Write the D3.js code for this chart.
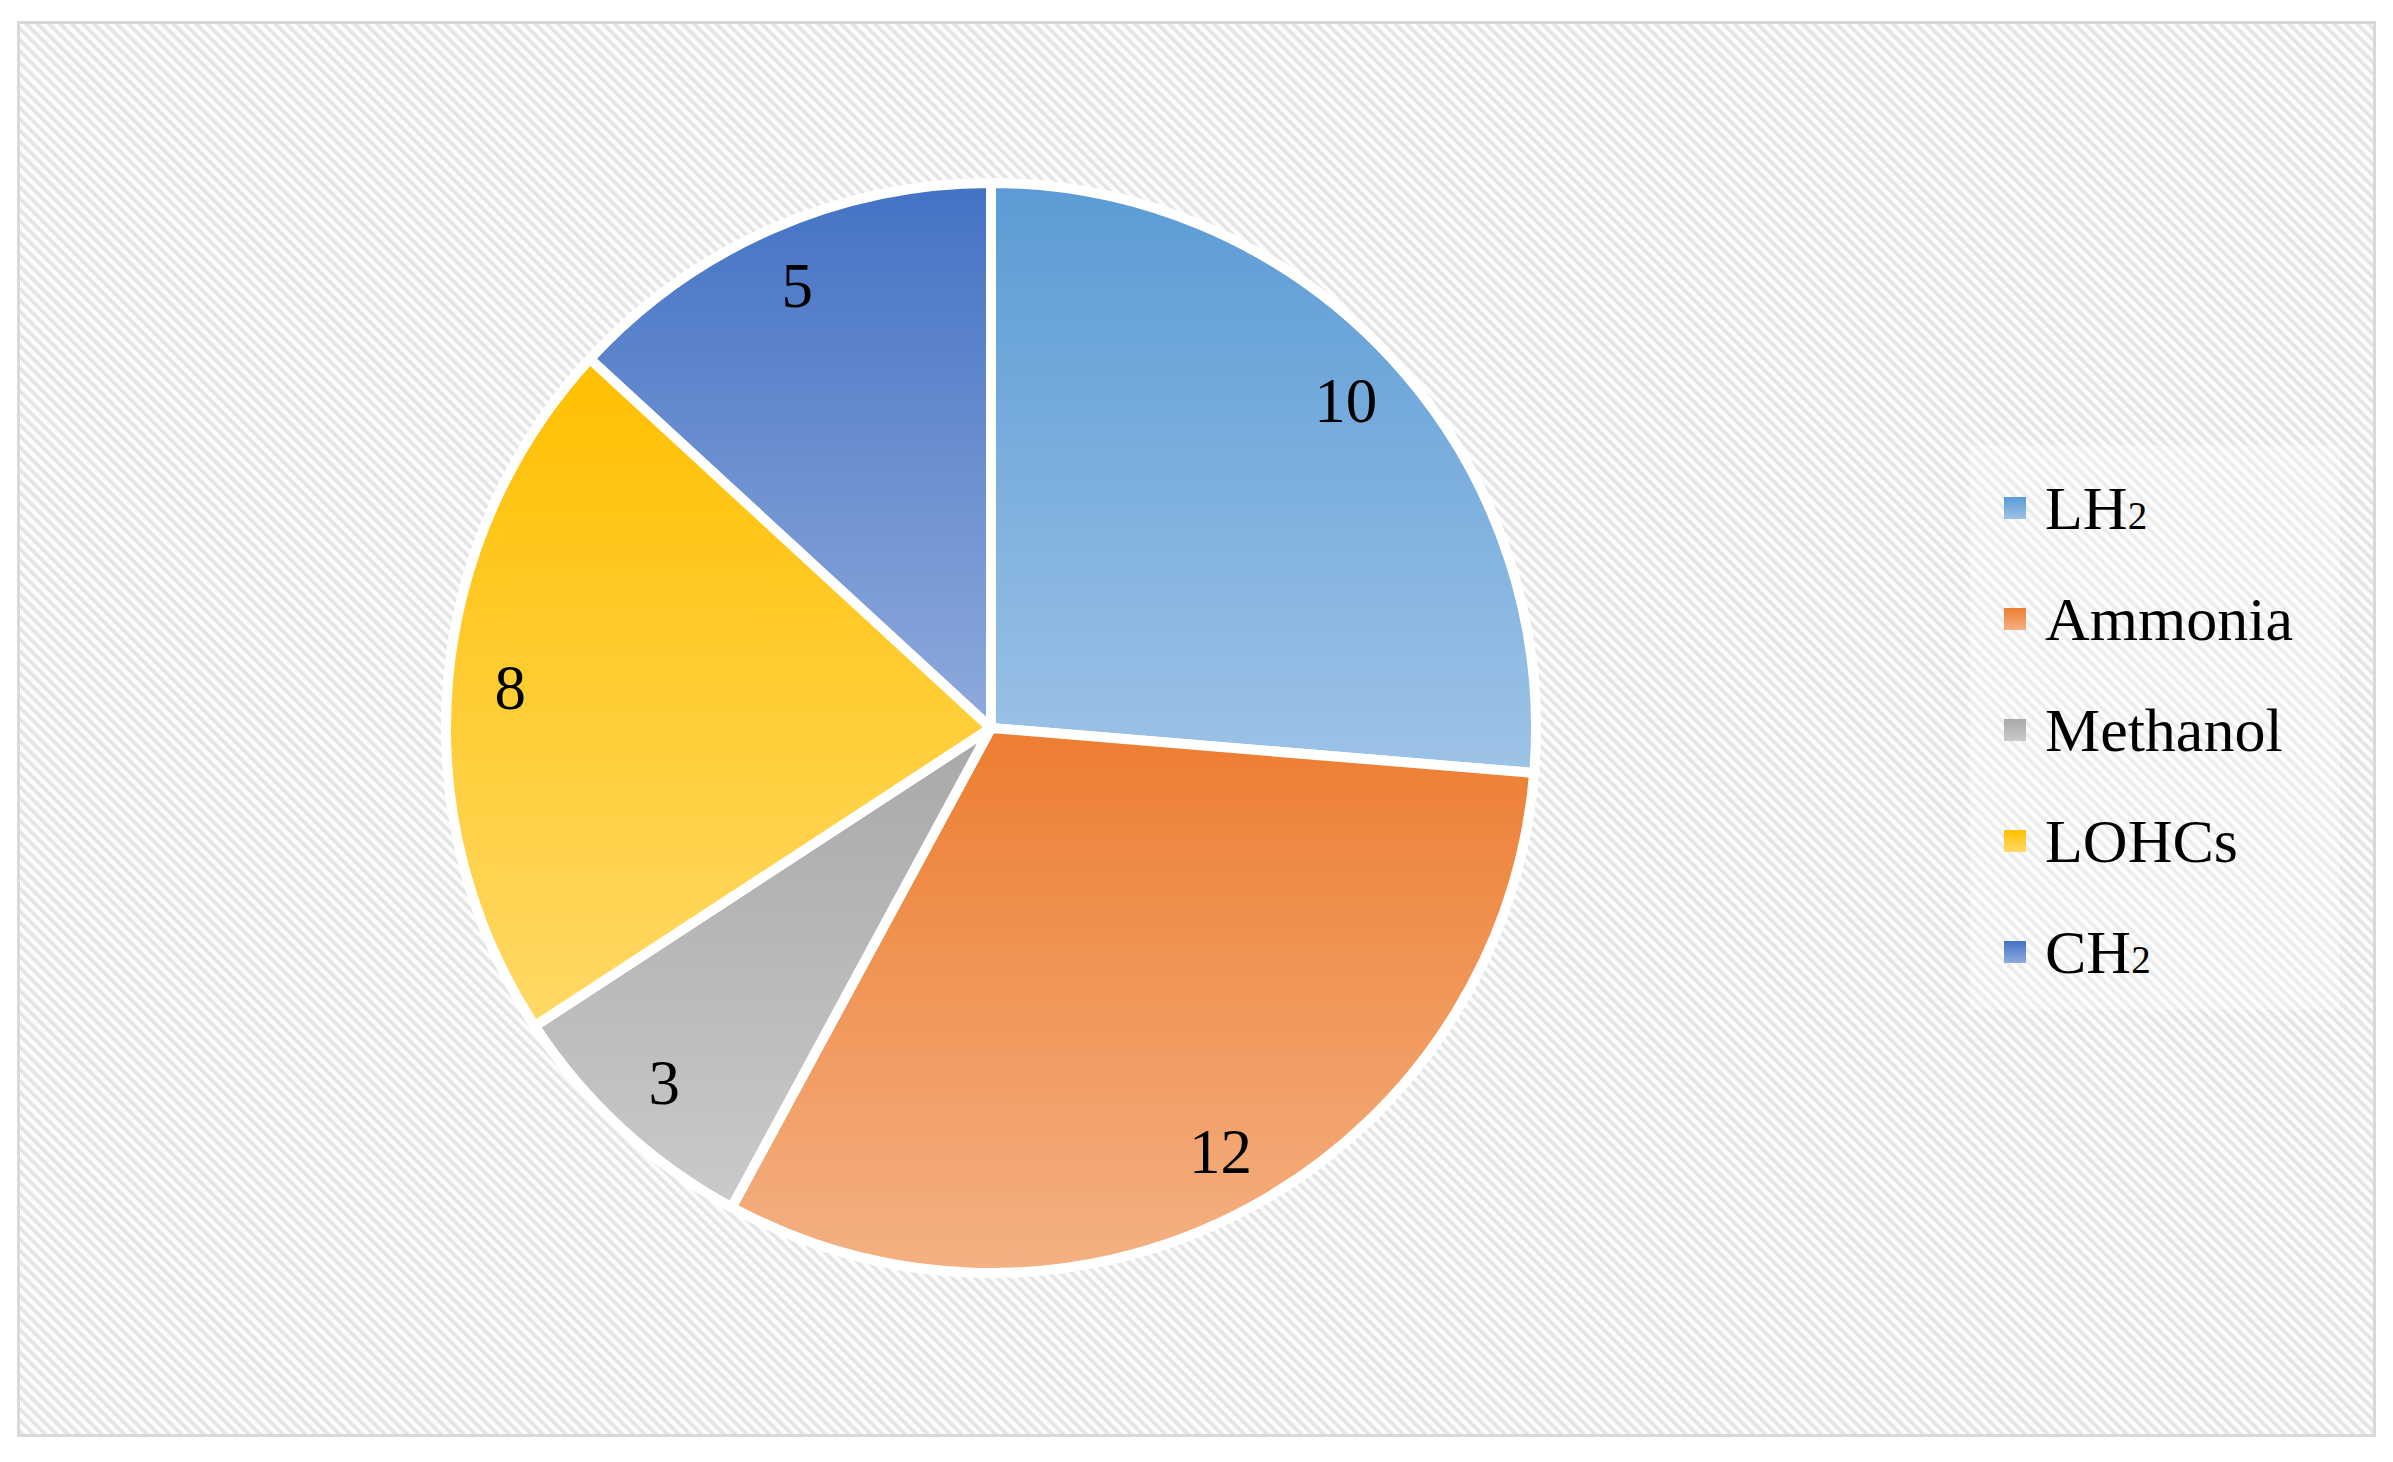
<!DOCTYPE html>
<html>
<head>
<meta charset="utf-8">
<style>
  body { margin: 0; background: #fff; }
  text { font-family: "Liberation Serif", "Times New Roman", serif; fill: #000; }
</style>
</head>
<body>
<script src="https://d3js.org/d3.v7.min.js"></script>
<script>

var categories = ["LH", "Ammonia", "Methanol", "LOHCs", "CH"];
var subscripts = ["2", "", "", "", "2"];
var values = [10, 12, 3, 8, 5];

// top colour / bottom colour of each slice gradient
var topColors = ["#5b9bd5", "#ed7d31", "#a8a8a8", "#ffc000", "#4472c4"];
var bottomColors = ["#9dc3e6", "#f4b183", "#cacaca", "#ffd966", "#8faadc"];

var width = 2393, height = 1462;
var cx = 991, cy = 728, radius = 545;

var svg = d3.select("body").append("svg")
    .attr("width", width)
    .attr("height", height);

var defs = svg.append("defs");

var hatch = defs.append("pattern")
    .attr("id", "hatch")
    .attr("patternUnits", "userSpaceOnUse")
    .attr("width", 8)
    .attr("height", 8)
    .attr("patternTransform", "rotate(-45)");
hatch.append("rect").attr("width", 8).attr("height", 8).attr("fill", "#fcfcfc");
hatch.append("rect").attr("width", 3.6).attr("height", 8).attr("fill", "#e4e4e4");

categories.forEach(function(c, i) {
  var g = defs.append("linearGradient")
      .attr("id", "grad" + i)
      .attr("x1", 0).attr("y1", 0)
      .attr("x2", 0).attr("y2", 1);
  g.append("stop").attr("offset", "0%").attr("stop-color", topColors[i]);
  g.append("stop").attr("offset", "100%").attr("stop-color", bottomColors[i]);
});

// chart area
svg.append("rect")
    .attr("x", 18.5)
    .attr("y", 22.5)
    .attr("width", 2356)
    .attr("height", 1413)
    .attr("fill", "url(#hatch)")
    .attr("stroke", "#d9d9d9")
    .attr("stroke-width", 3);

var pie = d3.pie()
    .sort(null)
    .value(function(d) { return d; });

var arc = d3.arc()
    .innerRadius(0)
    .outerRadius(radius);

var labelArc = d3.arc()
    .innerRadius(radius * 0.885)
    .outerRadius(radius * 0.885);

var arcs = pie(values);

var g = svg.append("g")
    .attr("transform", "translate(" + cx + "," + cy + ")");

g.selectAll(".slice")
    .data(arcs)
  .enter().append("path")
    .attr("class", "slice")
    .attr("d", arc)
    .attr("fill", function(d, i) { return "url(#grad" + i + ")"; })
    .attr("stroke", "#fff")
    .attr("stroke-width", 10)
    .attr("stroke-linejoin", "round");

g.selectAll(".label")
    .data(arcs)
  .enter().append("text")
    .attr("class", "label")
    .attr("transform", function(d) { return "translate(" + labelArc.centroid(d) + ")"; })
    .attr("text-anchor", "middle")
    .attr("dy", "0.33em")
    .style("font-size", "63px")
    .text(function(d) { return d.value; });

// legend
svg.append("rect")
    .attr("x", 1970)
    .attr("y", 445)
    .attr("width", 370)
    .attr("height", 565)
    .attr("fill", "#fff")
    .attr("opacity", 0.3);

var legend = svg.selectAll(".legend")
    .data(categories)
  .enter().append("g")
    .attr("class", "legend")
    .attr("transform", function(d, i) { return "translate(2004," + (508 + i * 111) + ")"; });

legend.append("rect")
    .attr("x", 0)
    .attr("y", -11)
    .attr("width", 22)
    .attr("height", 22)
    .attr("fill", function(d, i) { return "url(#grad" + i + ")"; });

var lt = legend.append("text")
    .attr("x", 41)
    .attr("dy", "0.34em")
    .style("font-size", "62px")
    .text(function(d) { return d; });

lt.append("tspan")
    .style("font-size", "39px")
    .text(function(d, i) { return subscripts[i]; });

</script>
</body>
</html>
